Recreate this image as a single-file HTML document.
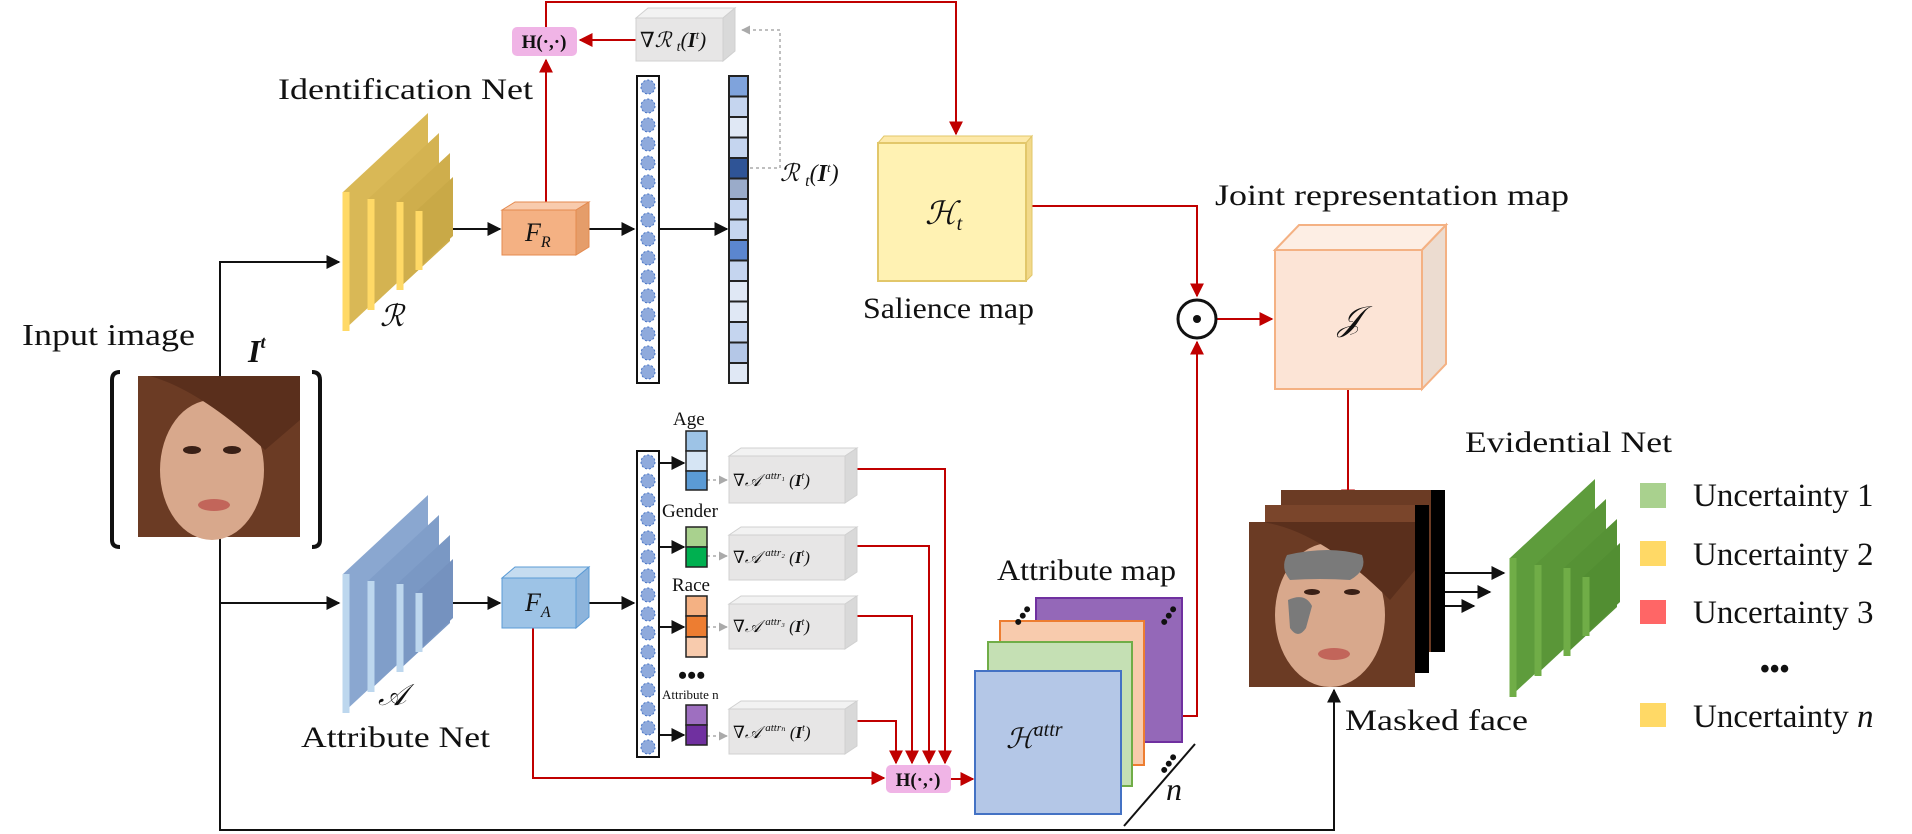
<!DOCTYPE html>
<html><head><meta charset="utf-8"><style>
html,body{margin:0;padding:0;background:#fff;}
svg{display:block;}
text{font-family:"Liberation Serif","DejaVu Serif",serif;fill:#111;}
</style></head><body>
<svg width="1912" height="834" viewBox="0 0 1912 834" xmlns="http://www.w3.org/2000/svg">
<defs>
<marker id="ab" viewBox="0 0 10 10" refX="9" refY="5" markerWidth="7" markerHeight="7" orient="auto"><path d="M0,0 L10,5 L0,10 z" fill="#111"/></marker>
<marker id="ar" viewBox="0 0 10 10" refX="9" refY="5" markerWidth="7" markerHeight="7" orient="auto"><path d="M0,0 L10,5 L0,10 z" fill="#c00000"/></marker>
<marker id="ag" viewBox="0 0 10 10" refX="9" refY="5" markerWidth="6" markerHeight="6" orient="auto"><path d="M0,0 L10,5 L0,10 z" fill="#aaa"/></marker>
</defs>

<g fill="none" stroke="#c00000" stroke-width="2">
<polyline points="546,202 546,60" marker-end="url(#ar)"/>
<polyline points="546,27 546,2 956,2 956,134" marker-end="url(#ar)"/>
<line x1="636" y1="40" x2="580" y2="40" marker-end="url(#ar)"/>
<polyline points="1026,206 1197,206 1197,296" marker-end="url(#ar)"/>
<line x1="1217" y1="319" x2="1272" y2="319" marker-end="url(#ar)"/>
<line x1="1348" y1="389" x2="1348" y2="502" marker-end="url(#ar)"/>
<polyline points="1146,716 1197,716 1197,342" marker-end="url(#ar)"/>
<polyline points="533,628 533,778 884,778" marker-end="url(#ar)"/>
<line x1="951" y1="779" x2="973" y2="779" marker-end="url(#ar)"/>
<polyline points="857,469 945,469 945,763" marker-end="url(#ar)"/>
<polyline points="857,546 929,546 929,763" marker-end="url(#ar)"/>
<polyline points="857,616 912,616 912,763" marker-end="url(#ar)"/>
<polyline points="857,721 896,721 896,763" marker-end="url(#ar)"/>
</g>

<g fill="none" stroke="#111" stroke-width="2">
<polyline points="220,376 220,262 339,262" marker-end="url(#ab)"/>
<line x1="220" y1="603" x2="339" y2="603" marker-end="url(#ab)"/>
<polyline points="220,537 220,830 1334,830 1334,690" marker-end="url(#ab)"/>
<line x1="445" y1="229" x2="500" y2="229" marker-end="url(#ab)"/>
<line x1="589" y1="229" x2="634" y2="229" marker-end="url(#ab)"/>
<line x1="660" y1="229" x2="727" y2="229" marker-end="url(#ab)"/>
<line x1="445" y1="603" x2="500" y2="603" marker-end="url(#ab)"/>
<line x1="589" y1="603" x2="634" y2="603" marker-end="url(#ab)"/>
<line x1="660" y1="463" x2="684" y2="463" marker-end="url(#ab)"/>
<line x1="660" y1="547" x2="684" y2="547" marker-end="url(#ab)"/>
<line x1="660" y1="627" x2="684" y2="627" marker-end="url(#ab)"/>
<line x1="660" y1="735" x2="684" y2="735" marker-end="url(#ab)"/>
<line x1="1445" y1="573" x2="1504" y2="573" marker-end="url(#ab)"/>
<line x1="1429" y1="592" x2="1490" y2="592" marker-end="url(#ab)"/>
<line x1="1415" y1="606" x2="1474" y2="606" marker-end="url(#ab)"/>
</g>

<g fill="none" stroke="#aaa" stroke-width="1.5" stroke-dasharray="3,3">
<polyline points="750,168 780,168 780,30 742,30" marker-end="url(#ag)"/>
<line x1="707" y1="480" x2="727" y2="480" marker-end="url(#ag)"/>
<line x1="707" y1="556" x2="727" y2="556" marker-end="url(#ag)"/>
<line x1="707" y1="627" x2="727" y2="627" marker-end="url(#ag)"/>
<line x1="707" y1="736" x2="727" y2="736" marker-end="url(#ag)"/>
</g>

<text x="278" y="99" font-size="30" textLength="255" lengthAdjust="spacingAndGlyphs">Identification Net</text>
<text x="22" y="345" font-size="31" textLength="173" lengthAdjust="spacingAndGlyphs">Input image</text>
<text x="248" y="362" font-size="32" font-style="italic" font-weight="bold">I<tspan font-size="18" dy="-14">t</tspan></text>
<text x="380" y="326" font-size="30" font-style="italic">ℛ</text>
<text x="378" y="705" font-size="30" font-style="italic">𝒜</text>
<text x="301" y="747" font-size="30" textLength="189" lengthAdjust="spacingAndGlyphs">Attribute Net</text>
<text x="780" y="181" font-size="24" font-style="italic">ℛ <tspan font-size="16" dy="5">t</tspan><tspan dy="-5">(</tspan><tspan font-weight="bold">I</tspan><tspan font-size="13" dy="-9">t</tspan><tspan dy="9">)</tspan></text>
<text x="863" y="318" font-size="30" textLength="171" lengthAdjust="spacingAndGlyphs">Salience map</text>
<text x="1215" y="205" font-size="30" textLength="354" lengthAdjust="spacingAndGlyphs">Joint representation map</text>
<text x="997" y="580" font-size="30" textLength="179" lengthAdjust="spacingAndGlyphs">Attribute map</text>
<text x="1465" y="452" font-size="30" textLength="207" lengthAdjust="spacingAndGlyphs">Evidential Net</text>
<text x="1345" y="730" font-size="30" textLength="183" lengthAdjust="spacingAndGlyphs">Masked face</text>
<text x="673" y="425" font-size="19">Age</text>
<text x="662" y="517" font-size="19">Gender</text>
<text x="672" y="591" font-size="19">Race</text>
<text x="678" y="684" font-size="26" font-weight="bold">•••</text>
<text x="662" y="699" font-size="13">Attribute n</text>

<g>
<polygon points="343,331 343,192 428,113 428,252" fill="#d9b856"/><line x1="346" y1="192" x2="346" y2="331" stroke="#ffd966" stroke-width="7"/>
<polygon points="368,310 368,199 439,133 439,244" fill="#d4b351"/><line x1="371" y1="199" x2="371" y2="310" stroke="#ffd966" stroke-width="7"/>
<polygon points="397,290 397,202 450,153 450,241" fill="#cfae4c"/><line x1="400" y1="202" x2="400" y2="290" stroke="#ffd966" stroke-width="7"/>
<polygon points="416,270 416,211 453,177 453,236" fill="#c9a947"/><line x1="419" y1="211" x2="419" y2="270" stroke="#ffd966" stroke-width="7"/>
</g>
<g>
<polygon points="343,713 343,574 428,495 428,634" fill="#8aa7d0"/><line x1="346" y1="574" x2="346" y2="713" stroke="#bdd7ee" stroke-width="7"/>
<polygon points="368,692 368,581 439,515 439,626" fill="#809ec9"/><line x1="371" y1="581" x2="371" y2="692" stroke="#bdd7ee" stroke-width="7"/>
<polygon points="397,672 397,584 450,535 450,623" fill="#7a98c4"/><line x1="400" y1="584" x2="400" y2="672" stroke="#bdd7ee" stroke-width="7"/>
<polygon points="416,652 416,593 453,559 453,618" fill="#7592bf"/><line x1="419" y1="593" x2="419" y2="652" stroke="#bdd7ee" stroke-width="7"/>
</g>
<g>
<polygon points="1510,697 1510,558 1595,479 1595,618" fill="#5e9c3c"/><line x1="1513" y1="558" x2="1513" y2="697" stroke="#70ad47" stroke-width="7"/>
<polygon points="1535,676 1535,565 1606,499 1606,610" fill="#5a9638"/><line x1="1538" y1="565" x2="1538" y2="676" stroke="#70ad47" stroke-width="7"/>
<polygon points="1564,656 1564,568 1617,519 1617,607" fill="#569235"/><line x1="1567" y1="568" x2="1567" y2="656" stroke="#70ad47" stroke-width="7"/>
<polygon points="1583,636 1583,577 1620,543 1620,602" fill="#528e32"/><line x1="1586" y1="577" x2="1586" y2="636" stroke="#70ad47" stroke-width="7"/>
</g>

<g>
<polygon points="502,210 515,202 589,202 576,210" fill="#f8cbad" stroke="#e48a4f"/>
<polygon points="576,210 589,202 589,247 576,255" fill="#e59d6a" stroke="#e48a4f"/>
<rect x="502" y="210" width="74" height="45" fill="#f4b183" stroke="#e48a4f"/>
<text x="525" y="241" font-size="26" font-style="italic">F<tspan font-size="16" dy="6">R</tspan></text>
</g>
<g>
<polygon points="502,578 515,567 589,567 576,578" fill="#c5dcf0" stroke="#5b9bd5"/>
<polygon points="576,578 589,567 589,617 576,628" fill="#8db4dc" stroke="#5b9bd5"/>
<rect x="502" y="578" width="74" height="50" fill="#9dc3e6" stroke="#5b9bd5"/>
<text x="525" y="611" font-size="26" font-style="italic">F<tspan font-size="16" dy="6">A</tspan></text>
</g>

<g>
<rect x="512" y="27" width="65" height="29" rx="5" fill="#f0b4e6"/>
<text x="544" y="48" font-size="19" font-weight="bold" text-anchor="middle">H(·,·)</text>
</g>
<g>
<rect x="886" y="765" width="65" height="28" rx="5" fill="#f0b4e6"/>
<text x="918" y="786" font-size="19" font-weight="bold" text-anchor="middle">H(·,·)</text>
</g>

<g>
<polygon points="636,18 648,8 735,8 723,18" fill="#f2f2f2" stroke="#d0d0d0"/>
<polygon points="723,18 735,8 735,51 723,61" fill="#d9d9d9" stroke="#d0d0d0"/>
<rect x="636" y="18" width="87" height="43" fill="#e7e6e6" stroke="#d0d0d0"/>
<text x="640" y="47" font-size="21" font-style="italic">∇ℛ <tspan font-size="14" dy="4">t</tspan><tspan dy="-4">(</tspan><tspan font-weight="bold">I</tspan><tspan font-size="12" dy="-8">t</tspan><tspan dy="8">)</tspan></text>
</g>
<g>
<polygon points="729,456 741,448 857,448 845,456" fill="#f2f2f2" stroke="#d0d0d0"/><polygon points="845,456 857,448 857,495 845,503" fill="#d9d9d9" stroke="#d0d0d0"/><rect x="729" y="456" width="116" height="47" fill="#e7e6e6" stroke="#d0d0d0"/>
<text x="733" y="486" font-size="17" font-style="italic">∇𝒜 <tspan font-size="11" dy="-7">attr₁</tspan><tspan dy="7"> (</tspan><tspan font-weight="bold">I</tspan><tspan font-size="10" dy="-7">t</tspan><tspan dy="7">)</tspan></text>
<polygon points="729,535 741,527 857,527 845,535" fill="#f2f2f2" stroke="#d0d0d0"/><polygon points="845,535 857,527 857,572 845,580" fill="#d9d9d9" stroke="#d0d0d0"/><rect x="729" y="535" width="116" height="45" fill="#e7e6e6" stroke="#d0d0d0"/>
<text x="733" y="563" font-size="17" font-style="italic">∇𝒜 <tspan font-size="11" dy="-7">attr₂</tspan><tspan dy="7"> (</tspan><tspan font-weight="bold">I</tspan><tspan font-size="10" dy="-7">t</tspan><tspan dy="7">)</tspan></text>
<polygon points="729,604 741,596 857,596 845,604" fill="#f2f2f2" stroke="#d0d0d0"/><polygon points="845,604 857,596 857,641 845,649" fill="#d9d9d9" stroke="#d0d0d0"/><rect x="729" y="604" width="116" height="45" fill="#e7e6e6" stroke="#d0d0d0"/>
<text x="733" y="632" font-size="17" font-style="italic">∇𝒜 <tspan font-size="11" dy="-7">attr₃</tspan><tspan dy="7"> (</tspan><tspan font-weight="bold">I</tspan><tspan font-size="10" dy="-7">t</tspan><tspan dy="7">)</tspan></text>
<polygon points="729,709 741,701 857,701 845,709" fill="#f2f2f2" stroke="#d0d0d0"/><polygon points="845,709 857,701 857,746 845,754" fill="#d9d9d9" stroke="#d0d0d0"/><rect x="729" y="709" width="116" height="45" fill="#e7e6e6" stroke="#d0d0d0"/>
<text x="733" y="738" font-size="17" font-style="italic">∇𝒜 <tspan font-size="11" dy="-7">attrₙ</tspan><tspan dy="7"> (</tspan><tspan font-weight="bold">I</tspan><tspan font-size="10" dy="-7">t</tspan><tspan dy="7">)</tspan></text>
</g>

<g stroke="#222" stroke-width="1.5">
<rect x="686" y="431" width="21" height="20" fill="#9dc3e6"/><rect x="686" y="451" width="21" height="20" fill="#d6e5f4"/><rect x="686" y="471" width="21" height="19" fill="#5b9bd5"/>
<rect x="686" y="527" width="21" height="20" fill="#a9d18e"/><rect x="686" y="547" width="21" height="20" fill="#00b050"/>
<rect x="686" y="596" width="21" height="20" fill="#f4b183"/><rect x="686" y="616" width="21" height="21" fill="#ed7d31"/><rect x="686" y="637" width="21" height="20" fill="#f8cbad"/>
<rect x="686" y="705" width="21" height="20" fill="#9e6fc0"/><rect x="686" y="725" width="21" height="20" fill="#7030a0"/>
</g>

<g>
<polygon points="878,143 884,136 1032,136 1026,143" fill="#fde9a9" stroke="#e2c76a"/>
<polygon points="1026,143 1032,136 1032,275 1026,281" fill="#f2d98a" stroke="#e2c76a"/>
<rect x="878" y="143" width="148" height="138" fill="#fff2b3" stroke="#e2c76a" stroke-width="2"/>
<text x="925" y="224" font-size="32" font-style="italic">ℋ<tspan font-size="20" dy="6">t</tspan></text>
</g>

<g>
<circle cx="1197" cy="319" r="19" fill="#fff" stroke="#111" stroke-width="3"/>
<circle cx="1197" cy="319" r="4" fill="#111"/>
</g>

<g>
<polygon points="1275,250 1299,225 1446,225 1422,250" fill="#fdeee4" stroke="#f4b183" stroke-width="2"/>
<polygon points="1422,250 1446,225 1446,364 1422,389" fill="#ecdcd0" stroke="#f4b183" stroke-width="2"/>
<rect x="1275" y="250" width="147" height="139" fill="#fce4d6" stroke="#f4b183" stroke-width="2"/>
<text x="1338" y="330" font-size="34" font-style="italic">𝒥</text>
</g>

<g>
<rect x="1036" y="598" width="146" height="144" fill="#9468b8" stroke="#7030a0" stroke-width="2"/>
<rect x="1000" y="621" width="144" height="144" fill="#f8cbad" stroke="#ed7d31" stroke-width="2"/>
<rect x="988" y="642" width="144" height="144" fill="#c5e0b4" stroke="#70ad47" stroke-width="2"/>
<rect x="975" y="671" width="146" height="143" fill="#b4c7e7" stroke="#4472c4" stroke-width="2"/>
<text x="1006" y="748" font-size="28" font-style="italic">ℋ<tspan font-size="20" dy="-12">attr</tspan></text>
<text x="1012" y="622" font-size="22" font-weight="bold" transform="rotate(-55 1024 616)">•••</text>
<text x="1158" y="622" font-size="22" font-weight="bold" transform="rotate(-55 1170 616)">•••</text>
<text x="1158" y="770" font-size="22" font-weight="bold" transform="rotate(-55 1170 764)">•••</text>
<line x1="1124" y1="826" x2="1195" y2="744" stroke="#111" stroke-width="2"/>
<text x="1166" y="800" font-size="32" font-style="italic">n</text>
</g>

<g>
<rect x="637" y="76" width="22" height="307" fill="#fff" stroke="#111" stroke-width="2"/>
<g fill="#8faadc" stroke="#4472c4" stroke-dasharray="2,2">
<circle cx="648" cy="87" r="7"/><circle cx="648" cy="106" r="7"/><circle cx="648" cy="125" r="7"/><circle cx="648" cy="144" r="7"/><circle cx="648" cy="163" r="7"/><circle cx="648" cy="182" r="7"/><circle cx="648" cy="201" r="7"/><circle cx="648" cy="220" r="7"/><circle cx="648" cy="239" r="7"/><circle cx="648" cy="258" r="7"/><circle cx="648" cy="277" r="7"/><circle cx="648" cy="296" r="7"/><circle cx="648" cy="315" r="7"/><circle cx="648" cy="334" r="7"/><circle cx="648" cy="353" r="7"/><circle cx="648" cy="372" r="7"/>
</g></g>
<g>
<rect x="637" y="451" width="22" height="306" fill="#fff" stroke="#111" stroke-width="2"/>
<g fill="#8faadc" stroke="#4472c4" stroke-dasharray="2,2">
<circle cx="648" cy="462" r="7"/><circle cx="648" cy="481" r="7"/><circle cx="648" cy="500" r="7"/><circle cx="648" cy="519" r="7"/><circle cx="648" cy="538" r="7"/><circle cx="648" cy="557" r="7"/><circle cx="648" cy="576" r="7"/><circle cx="648" cy="595" r="7"/><circle cx="648" cy="614" r="7"/><circle cx="648" cy="633" r="7"/><circle cx="648" cy="652" r="7"/><circle cx="648" cy="671" r="7"/><circle cx="648" cy="690" r="7"/><circle cx="648" cy="709" r="7"/><circle cx="648" cy="728" r="7"/><circle cx="648" cy="747" r="7"/>
</g></g>
<g stroke="#222" stroke-width="2">
<rect x="729" y="76" width="19" height="20.5" fill="#7fa3dc"/><rect x="729" y="96.5" width="19" height="20.5" fill="#c5d5ef"/><rect x="729" y="117" width="19" height="20.5" fill="#e0e8f5"/><rect x="729" y="137.5" width="19" height="20.5" fill="#c5d5ef"/><rect x="729" y="158" width="19" height="20.5" fill="#2f5496"/><rect x="729" y="178.5" width="19" height="20.5" fill="#9aabc9"/><rect x="729" y="199" width="19" height="20.5" fill="#c5d5ef"/><rect x="729" y="219.5" width="19" height="20.5" fill="#c5d5ef"/><rect x="729" y="240" width="19" height="20.5" fill="#5b86cf"/><rect x="729" y="260.5" width="19" height="20.5" fill="#c5d5ef"/><rect x="729" y="281" width="19" height="20.5" fill="#e0e8f5"/><rect x="729" y="301.5" width="19" height="20.5" fill="#e0e8f5"/><rect x="729" y="322" width="19" height="20.5" fill="#c5d5ef"/><rect x="729" y="342.5" width="19" height="20.5" fill="#b4c7e7"/><rect x="729" y="363" width="19" height="20" fill="#e0e8f5"/>
</g>

<g>
<rect x="138" y="376" width="162" height="161" fill="#6b3b24"/>
<ellipse cx="212" cy="470" rx="52" ry="70" fill="#d8a88c"/>
<path d="M150,376 Q200,390 265,450 L300,420 L300,376 Z" fill="#5a2f1c"/>
<ellipse cx="192" cy="450" rx="9" ry="4" fill="#3a2016"/><ellipse cx="232" cy="450" rx="9" ry="4" fill="#3a2016"/>
<ellipse cx="214" cy="505" rx="16" ry="6" fill="#c2655a"/>
<path d="M120,372 Q112,372 112,380 L112,540 Q112,547 120,547" fill="none" stroke="#111" stroke-width="4"/>
<path d="M312,372 Q320,372 320,380 L320,540 Q320,547 312,547" fill="none" stroke="#111" stroke-width="4"/>
</g>

<g>
<rect x="1281" y="490" width="164" height="162" fill="#6b3b24"/><rect x="1431" y="490" width="14" height="162" fill="#000"/>
<rect x="1265" y="505" width="164" height="168" fill="#7a452b"/><rect x="1415" y="505" width="14" height="168" fill="#000"/>
<rect x="1249" y="522" width="166" height="165" fill="#6b3b24"/>
<ellipse cx="1330" cy="615" rx="55" ry="72" fill="#d8a88c"/>
<path d="M1262,522 Q1320,530 1390,600 L1415,570 L1415,522 Z" fill="#5a2f1c"/>
<path d="M1287,555 Q1330,545 1362,555 Q1368,570 1350,580 Q1320,578 1290,580 Q1280,568 1287,555 Z" fill="#7a7a7a"/>
<path d="M1288,600 Q1305,592 1312,606 L1306,628 Q1298,640 1290,628 Z" fill="#7a7a7a"/>
<ellipse cx="1312" cy="592" rx="8" ry="3" fill="#3a2016"/><ellipse cx="1352" cy="592" rx="8" ry="3" fill="#3a2016"/>
<ellipse cx="1334" cy="654" rx="16" ry="6" fill="#c2655a"/>
</g>

<g>
<rect x="1640" y="483" width="26" height="25" fill="#a9d18e"/>
<text x="1693" y="506" font-size="33">Uncertainty 1</text>
<rect x="1640" y="541" width="26" height="25" fill="#ffd966"/>
<text x="1693" y="565" font-size="33">Uncertainty 2</text>
<rect x="1640" y="600" width="26" height="24" fill="#ff6666"/>
<text x="1693" y="623" font-size="33">Uncertainty 3</text>
<text x="1760" y="678" font-size="28" font-weight="bold">•••</text>
<rect x="1640" y="703" width="26" height="24" fill="#ffd966"/>
<text x="1693" y="727" font-size="33">Uncertainty <tspan font-style="italic">n</tspan></text>
</g>
</svg>
</body></html>
